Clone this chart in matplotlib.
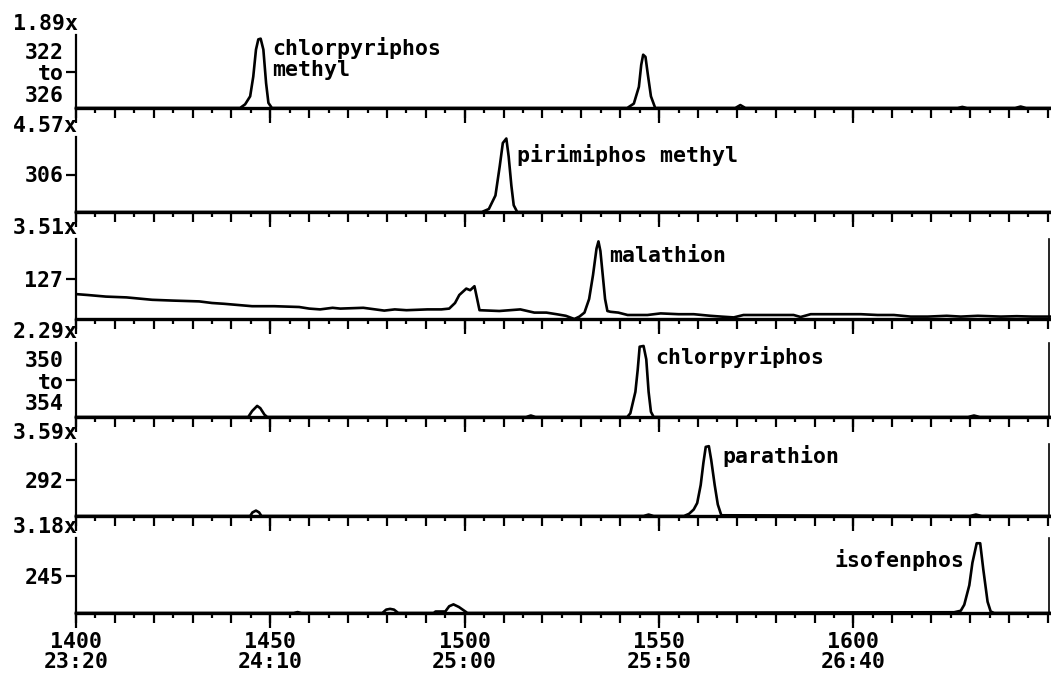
import matplotlib
matplotlib.use("Agg")
import matplotlib.pyplot as plt
from matplotlib.ticker import MultipleLocator, FixedLocator

# ---------------- data ----------------
scale_labels = ["1.89x", "4.57x", "3.51x", "2.29x", "3.59x", "3.18x"]
ion_labels = ["322\nto\n326", "306", "127", "350\nto\n354", "292", "245"]
compound_labels = ["chlorpyriphos\nmethyl", "pirimiphos methyl", "malathion",
                   "chlorpyriphos", "parathion", "isofenphos"]

scan_ticks = [1400, 1450, 1500, 1550, 1600]
time_labels = ["23:20", "24:10", "25:00", "25:50", "26:40"]

# m/z 322 to 326
ch1_scan = [1400, 1442.2, 1443.5, 1444.8, 1445.6, 1446.3, 1446.9, 1447.5, 1448.2, 1448.9,
            1449.5, 1450.4, 1541.8, 1543.5, 1544.8, 1545.4, 1545.9, 1546.5, 1547.1, 1547.9,
            1549.0, 1569.6, 1570.9, 1572.2, 1626.8, 1628.0, 1629.2, 1641.6, 1643.0, 1644.4, 1651]
ch1_int = [0, 0, 0.05, 0.16, 0.43, 0.80, 0.94, 0.95, 0.80, 0.34,
           0.07, 0, 0, 0.06, 0.29, 0.59, 0.73, 0.70, 0.46, 0.16,
           0.0, 0, 0.04, 0, 0, 0.015, 0, 0, 0.02, 0, 0]

# m/z 306
ch2_scan = [1400, 1504.4, 1506.2, 1507.9, 1509.0, 1509.8, 1510.7, 1511.3, 1512.0, 1512.6,
            1513.5, 1651]
ch2_int = [0, 0, 0.04, 0.22, 0.61, 0.92, 0.98, 0.74, 0.35, 0.09, 0, 0]

# m/z 127
ch3_scan = [1400.3, 1403, 1407.7, 1413, 1419.6, 1425, 1431.7, 1435, 1438.1, 1445.3,
            1451, 1457.4, 1460, 1462.8, 1466, 1468, 1473.9, 1477, 1479.3, 1482,
            1485, 1490.4, 1494, 1496.0, 1497.5, 1498.6, 1500.4, 1501.4, 1502.5, 1503.2,
            1503.8, 1508.9, 1514.3, 1517.9, 1521, 1523.6, 1526, 1528.2, 1529.5, 1530.8,
            1532.0, 1533.0, 1533.9, 1534.4, 1534.9, 1535.5, 1536.1, 1536.7, 1537.5, 1539.5,
            1541.9, 1545, 1547.0, 1550.4, 1555, 1558.9, 1563.2, 1566, 1569.2, 1571.7,
            1578, 1584.6, 1586.4, 1589.0, 1595, 1601.9, 1606.2, 1610.4, 1614.7, 1619.1,
            1624, 1627.6, 1632, 1637.9, 1642, 1646, 1651]
ch3_int = [0.31, 0.30, 0.28, 0.27, 0.24, 0.23, 0.22, 0.20, 0.19, 0.16,
           0.16, 0.15, 0.13, 0.12, 0.14, 0.13, 0.14, 0.12, 0.105, 0.12,
           0.11, 0.12, 0.12, 0.13, 0.20, 0.30, 0.38, 0.36, 0.41, 0.25,
           0.11, 0.10, 0.12, 0.08, 0.08, 0.06, 0.04, 0.0, 0.03, 0.08,
           0.25, 0.55, 0.88, 0.97, 0.85, 0.55, 0.25, 0.10, 0.09, 0.08,
           0.05, 0.05, 0.05, 0.07, 0.06, 0.06, 0.04, 0.03, 0.02, 0.05,
           0.05, 0.05, 0.025, 0.06, 0.06, 0.06, 0.05, 0.05, 0.03, 0.03,
           0.04, 0.03, 0.04, 0.03, 0.035, 0.03, 0.03]

# m/z 350 to 354
ch4_scan = [1400, 1444.3, 1445.3, 1446.6, 1447.4, 1448.5, 1449.2, 1515.8, 1517.0, 1518.2,
            1541.8, 1542.6, 1543.9, 1544.5, 1545.0, 1546.0, 1546.7, 1547.3, 1547.9, 1548.6,
            1629.5, 1631.0, 1632.5, 1651]
ch4_int = [0, 0, 0.08, 0.15, 0.12, 0.03, 0, 0, 0.02, 0,
           0, 0.05, 0.34, 0.64, 0.95, 0.96, 0.78, 0.34, 0.07, 0,
           0, 0.02, 0, 0]

# m/z 292
ch5_scan = [1400, 1444.8, 1445.4, 1446.3, 1447.1, 1447.7, 1546.0, 1547.3, 1548.6,
            1556.4, 1557.7, 1558.9, 1559.8, 1560.7, 1561.4, 1562.0, 1562.8, 1563.4, 1564.3,
            1565.1, 1566.0, 1630.0, 1631.5, 1633.0, 1651]
ch5_int = [0, 0, 0.05, 0.075, 0.05, 0, 0, 0.02, 0,
           0, 0.03, 0.09, 0.18, 0.43, 0.74, 0.96, 0.97, 0.78, 0.43,
           0.16, 0.01, 0, 0.02, 0, 0]

# m/z 245
ch6_scan = [1400, 1456.0, 1457.0, 1458.0, 1478.8, 1479.8, 1480.8, 1481.8, 1482.9,
            1492.0, 1492.5, 1495.0, 1496.0, 1497.1, 1498.5, 1500.7,
            1625.9, 1627.6, 1628.5, 1629.8, 1630.6, 1631.7, 1632.6, 1633.4, 1634.5,
            1635.3, 1636.2, 1651]
ch6_int = [0, 0, 0.012, 0, 0, 0.045, 0.055, 0.045, 0,
           0, 0.02, 0.02, 0.09, 0.115, 0.08, 0,
           0.01, 0.03, 0.11, 0.37, 0.67, 0.93, 0.93, 0.58, 0.15,
           0.02, 0, 0]

traces = [(ch1_scan, ch1_int), (ch2_scan, ch2_int), (ch3_scan, ch3_int),
          (ch4_scan, ch4_int), (ch5_scan, ch5_int), (ch6_scan, ch6_int)]

# ---------------- layout ----------------
W, H = 1051, 680
LEFT_PX, RIGHT_PX = 76, 1049
PANEL_PX = [(35, 108), (137, 212), (239, 319), (343, 417), (444, 516), (538, 613)]
XLIM = (1400, 1650.3)
LABEL_POS = [(1450.5, 0.68, "left"), (1513.5, 0.76, "left"), (1537.2, 0.79, "left"),
             (1549.1, 0.81, "left"), (1566.3, 0.83, "left"), (1628.6, 0.71, "right")]
RIGHT_SPINE = [False, False, True, True, True, True]
FS = 15.5

plt.rcParams["font.family"] = ["DejaVu Sans Mono", "DejaVu Sans"]
plt.rcParams["font.weight"] = "bold"

fig = plt.figure(figsize=(W / 100, H / 100), dpi=100)

for i, (top, bot) in enumerate(PANEL_PX):
    ax = fig.add_axes([LEFT_PX / W, 1 - bot / H, (RIGHT_PX - LEFT_PX) / W, (bot - top) / H])
    xs, ys = traces[i]
    ax.plot(xs, ys, color="black", lw=1.9, solid_joinstyle="round", clip_on=False)
    ax.set_xlim(*XLIM)
    ax.set_ylim(0, 1)

    ax.spines["top"].set_visible(False)
    ax.spines["right"].set_visible(RIGHT_SPINE[i])
    ax.spines["right"].set_linewidth(1.2)
    ax.spines["left"].set_linewidth(1.6)
    ax.spines["bottom"].set_linewidth(2.4)

    # x ticks: medium every 10, short every 5
    ax.xaxis.set_major_locator(MultipleLocator(10))
    ax.xaxis.set_minor_locator(MultipleLocator(5))
    ax.tick_params(axis="x", which="major", direction="out", length=7, width=1.6,
                   labelbottom=False)
    ax.tick_params(axis="x", which="minor", direction="out", length=3.5, width=1.6)

    # long ticks every 50 on a secondary axis
    sec = ax.secondary_xaxis("bottom")
    sec.spines["bottom"].set_visible(False)
    sec.xaxis.set_major_locator(FixedLocator(scan_ticks))
    sec.tick_params(axis="x", direction="out", length=11, width=1.6, pad=3,
                    labelsize=FS)
    if i == len(PANEL_PX) - 1:
        sec.set_xticks(scan_ticks, [f"{s}\n{t}" for s, t in zip(scan_ticks, time_labels)],
                       fontsize=FS, fontweight="bold", linespacing=1.0)
    else:
        sec.set_xticklabels([])

    # y: one tick with ion label
    ax.set_yticks([0.5])
    ax.set_yticklabels([ion_labels[i]], fontsize=FS, fontweight="bold",
                       multialignment="right", linespacing=1.1)
    ax.tick_params(axis="y", direction="out", length=7, width=1.6, pad=2)

    # scale factor label
    ax.annotate(scale_labels[i], xy=(0, 1), xycoords="axes fraction",
                xytext=(1.5, 3.5), textcoords="offset points",
                ha="right", va="baseline", fontsize=FS, fontweight="bold")

    # compound label
    lx, ly, lha = LABEL_POS[i]
    ax.text(lx, ly, compound_labels[i], ha=lha, va="center", fontsize=FS,
            fontweight="bold", linespacing=1.1)

fig.savefig("out.png", dpi=100)
